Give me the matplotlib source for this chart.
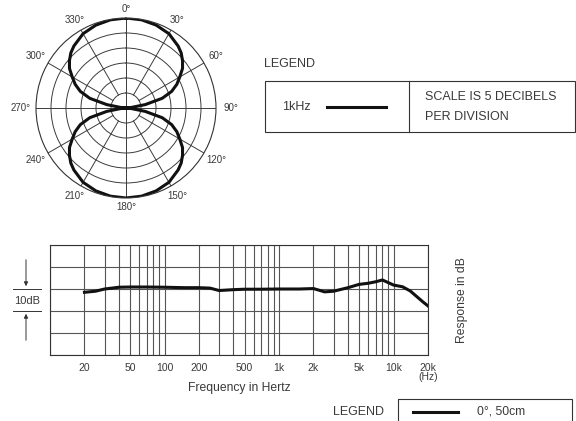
import matplotlib.pyplot as plt
import numpy as np
from matplotlib.ticker import FixedLocator, LogLocator, NullFormatter

plt.rcParams['font.family'] = ['Liberation Sans', 'DejaVu Sans']

# polar pattern at 1 kHz (dB, 0 = on-axis) (5 dB / ring)
polar_angles = [0, 10, 20, 30, 40, 45, 50, 55, 60, 65, 70, 75, 80, 85, 90,
                95, 100, 105, 110, 115, 120, 125, 130, 135, 140, 150, 160, 170, 180,
                190, 200, 210, 220, 225, 230, 235, 240, 245, 250, 255, 260, 265, 270,
                275, 280, 285, 290, 295, 300, 305, 310, 315, 320, 330, 340, 350, 360]
polar_levels = [0, -0.15, -0.6, -1.4, -3.0, -4.0, -5.4, -7.0, -9.3, -11.3, -13.8, -17.5, -23.5, -28.5, -30,
                -28.5, -23.5, -17.5, -13.8, -11.3, -9.3, -7.0, -5.4, -4.0, -3.0, -1.4, -0.6, -0.15, 0,
                -0.15, -0.6, -1.4, -3.0, -4.0, -5.4, -7.0, -9.3, -11.3, -13.8, -17.5, -23.5, -28.5, -30,
                -28.5, -23.5, -17.5, -13.8, -11.3, -9.3, -7.0, -5.4, -4.0, -3.0, -1.4, -0.6, -0.15, 0]
angle_ticks = [0, 30, 60, 90, 120, 150, 180, 210, 240, 270, 300, 330]
angle_labels = ['0°', '30°', '60°', '90°', '120°', '150°', '180°', '210°', '240°', '270°', '300°', '330°']

# frequency response
freqs = [20, 25, 30, 40, 50, 70, 100, 150, 200, 250, 300, 400, 500, 700, 1000, 1500, 2000,
         2500, 3000, 4000, 5000, 6000, 7000, 8000, 9000, 10000, 12000, 14000, 16000, 18000, 20000]
response = [-1.5, -1.0, 0.0, 0.8, 0.9, 0.9, 0.8, 0.6, 0.6, 0.4, -0.7, -0.3, -0.1, -0.1, 0.0,
            0.0, 0.2, -1.3, -1.0, 0.6, 2.1, 2.6, 3.3, 4.1, 2.9, 1.8, 1.0, -0.9, -3.5, -5.8, -7.7]
freq_ticks = [20, 50, 100, 200, 500, 1000, 2000, 5000, 10000, 20000]
freq_labels = ['20', '50', '100', '200', '500', '1k', '2k', '5k', '10k', '20k\n(Hz)']

W, H = 576, 421
fig = plt.figure(figsize=(W / 100, H / 100), dpi=100)
text_col = '#3a3a3a'
grid_col = '#555555'

# ---- polar plot
axp = fig.add_axes([36 / W, 1 - 198 / H, 180 / W, 180 / H], projection='polar')
axp.set_theta_zero_location('N')
axp.set_theta_direction(-1)
axp.set_rlim(-30, 0)
axp.set_rgrids([-25, -20, -15, -10, -5], labels=[])
axp.set_thetagrids(angle_ticks, labels=[''] * len(angle_ticks))
axp.xaxis.grid(False)
axp.yaxis.grid(True, color='#3c3c3c', lw=0.7)
axp.spines['polar'].set_color('#333333')
axp.spines['polar'].set_linewidth(0.8)
axp.tick_params(axis='x', length=0)
for a, lab in zip(angle_ticks, angle_labels):
    r0 = -30 if a % 90 == 0 else -25
    axp.plot([np.radians(a)] * 2, [r0, 0], color='#3c3c3c', lw=0.7)
    # label just outside the outer ring (rings are 3 px per dB)
    r_lab = (99 + 6 * abs(np.sin(np.radians(a)))) / 3 - 30
    axp.text(np.radians(a), r_lab, lab, fontsize=7, color=text_col,
             ha='center', va='center', clip_on=False)
axp.plot(np.radians(polar_angles), polar_levels, color='#111111', lw=2.2)

# ---- frequency response
axf = fig.add_axes([50 / W, 1 - 355 / H, 378 / W, 110 / H])
axf.set_xscale('log')
axf.set_xlim(10, 20000)
axf.set_ylim(-30, 20)
axf.xaxis.set_major_locator(FixedLocator(freq_ticks))
axf.xaxis.set_minor_locator(LogLocator(base=10, subs=np.arange(1, 10)))
axf.xaxis.set_minor_formatter(NullFormatter())
axf.set_xticklabels(freq_labels, linespacing=0.85)
axf.set_yticks(np.arange(-30, 21, 10))
axf.set_yticklabels([])
axf.grid(True, which='both', axis='x', color=grid_col, lw=0.8)
axf.grid(True, which='major', axis='y', color=grid_col, lw=0.8)
axf.tick_params(which='both', length=0)
axf.tick_params(axis='x', labelsize=7.5, colors=text_col, pad=6)
for s in axf.spines.values():
    s.set_color('#333333')
    s.set_linewidth(0.8)
axf.plot(freqs, response, color='#111111', lw=2.2)
axf.set_xlabel('Frequency in Hertz', fontsize=8.7, color=text_col, labelpad=0)
axf.yaxis.set_label_position('right')
axf.set_ylabel('Response in dB', fontsize=8.7, color=text_col, labelpad=20)

# ---- annotation overlay in pixel space
ov = fig.add_axes([0, 0, 1, 1], zorder=-1)
ov.set_xlim(0, W)
ov.set_ylim(H, 0)
ov.axis('off')

# 10dB marker
ov.plot([13, 41], [289, 289], color='#333333', lw=0.7)
ov.plot([13, 41], [311, 311], color='#333333', lw=0.7)
ov.annotate('', xy=(26, 289), xytext=(26, 257),
            arrowprops=dict(arrowstyle='-|>', color='#333333', lw=0.7, mutation_scale=6))
ov.annotate('', xy=(26, 311), xytext=(26, 343),
            arrowprops=dict(arrowstyle='-|>', color='#333333', lw=0.7, mutation_scale=6))
ov.text(27.5, 300.5, '10dB', fontsize=8, color=text_col, ha='center', va='center')

# top legend
ov.text(264, 64, 'LEGEND', fontsize=9, color=text_col, va='center')
ov.add_patch(plt.Rectangle((265, 81), 310, 51, fill=False, ec='#333333', lw=0.8))
ov.plot([409, 409], [81, 132], color='#333333', lw=0.8)
ov.text(282, 107, '1kHz', fontsize=9, color=text_col, va='center')
ov.plot([327, 386], [107, 107], color='#111111', lw=2.2)
ov.text(425, 97.5, 'SCALE IS 5 DECIBELS', fontsize=9, color=text_col, va='center')
ov.text(425, 117.5, 'PER DIVISION', fontsize=9, color=text_col, va='center')

# bottom legend
ov.text(333, 412, 'LEGEND', fontsize=9, color=text_col, va='center')
ov.add_patch(plt.Rectangle((398, 399), 174, 40, fill=False, ec='#333333', lw=0.8))
ov.plot([413, 458], [412, 412], color='#111111', lw=2.2)
ov.text(477, 412, '0°, 50cm', fontsize=8.7, color=text_col, va='center')

fig.savefig('out.png', dpi=100)
